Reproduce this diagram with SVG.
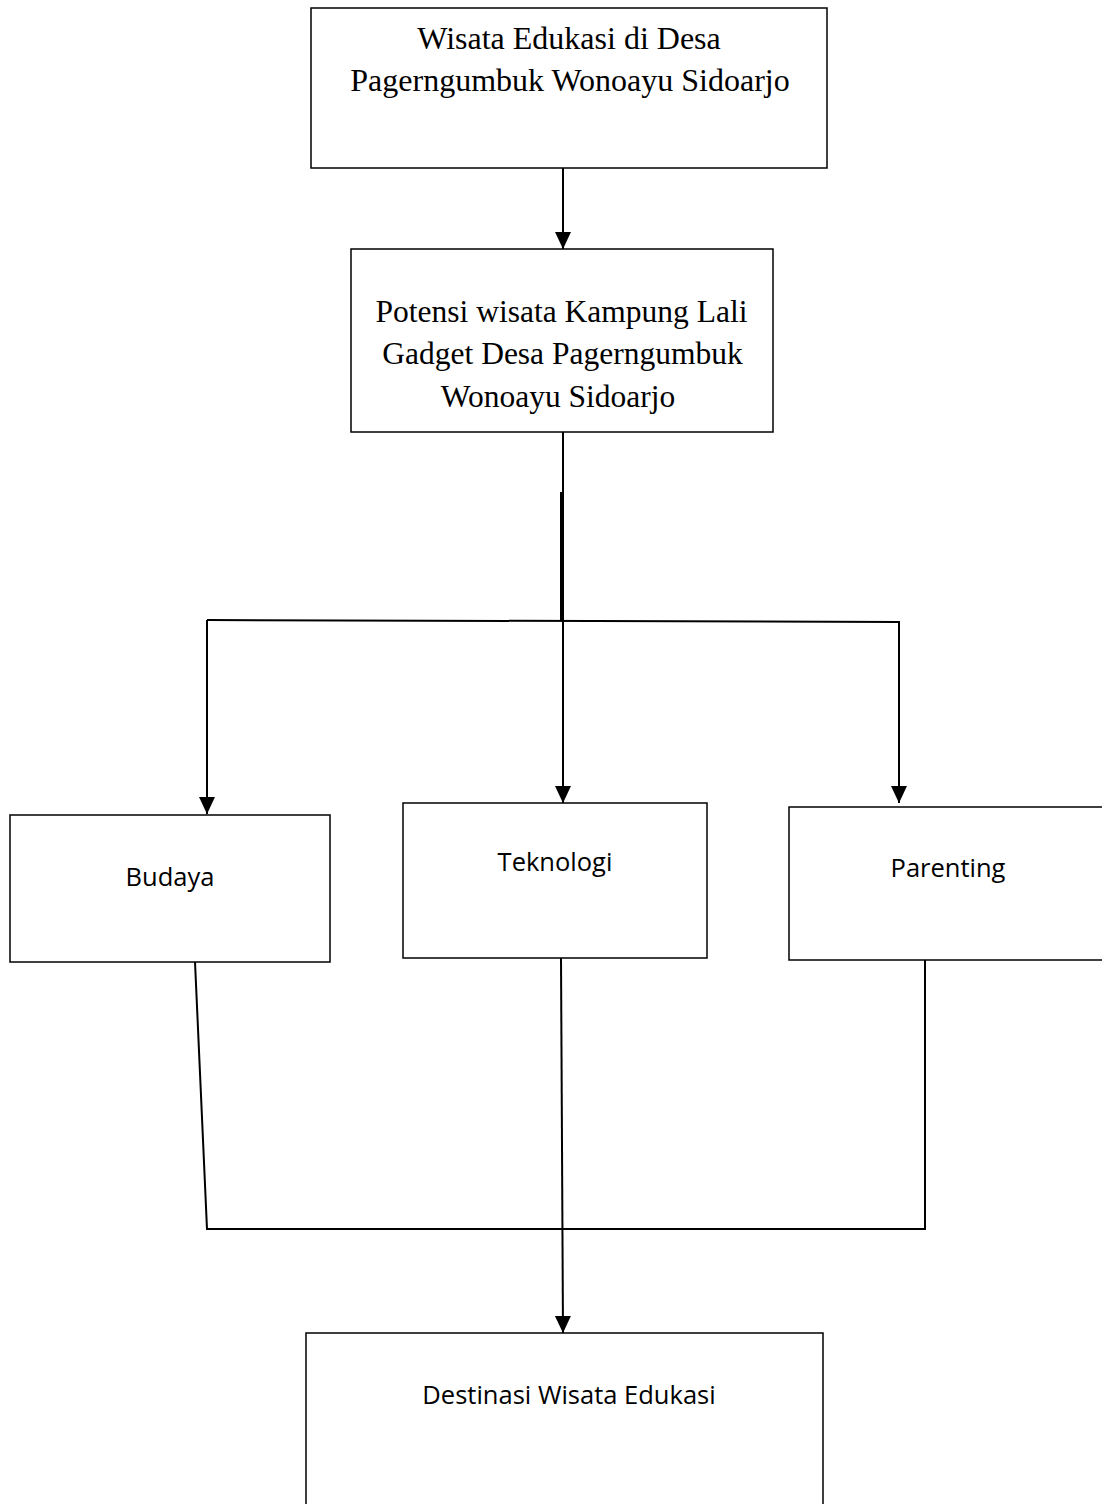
<svg xmlns="http://www.w3.org/2000/svg" width="1102" height="1504" viewBox="0 0 1102 1504">
<style>
.box{fill:#fff;stroke:#000;stroke-width:1.5}
.serif{font-family:"Liberation Serif","Times New Roman",serif;font-size:32px;fill:#000;text-anchor:middle}
.serif2{font-family:"Liberation Serif","Times New Roman",serif;font-size:31.5px;fill:#000;text-anchor:middle}
.sans{font-family:"Open Sans","Noto Sans",sans-serif;font-size:25.5px;fill:#000;text-anchor:middle}
.con{fill:none;stroke:#000;stroke-width:2}
</style>
<defs>
<marker id="arr" markerUnits="userSpaceOnUse" markerWidth="18" markerHeight="18" viewBox="0 0 18 18" refX="17" refY="9" orient="auto">
<path d="M0,1 L17,9 L0,17 Z" fill="#000"/>
</marker>
</defs>
<rect width="1102" height="1504" fill="#fff"/>
<g id="connectors">
<line class="con" x1="563" y1="168" x2="563" y2="249" marker-end="url(#arr)"/>
<line class="con" x1="563" y1="432" x2="563" y2="621"/>
<line class="con" x1="561" y1="492" x2="561" y2="621"/>
<polyline class="con" points="207,620 899,622 899,803" marker-end="url(#arr)"/>
<line class="con" x1="207" y1="620" x2="207" y2="814" marker-end="url(#arr)"/>
<line class="con" x1="563" y1="621" x2="563" y2="803" marker-end="url(#arr)"/>
<polyline class="con" points="195,962 207,1229 925,1229 925,960"/>
<line class="con" x1="561" y1="958" x2="563" y2="1333" marker-end="url(#arr)"/>
</g>
<g id="node-wisata">
<rect class="box" x="311" y="8" width="516" height="160"/>
<text class="serif" x="569" y="49">Wisata Edukasi di Desa</text>
<text class="serif" x="570" y="91">Pagerngumbuk Wonoayu Sidoarjo</text>
</g>
<g id="node-potensi">
<rect class="box" x="351" y="249" width="422" height="183"/>
<text class="serif2" x="561.5" y="322">Potensi wisata Kampung Lali</text>
<text class="serif2" x="562.5" y="364">Gadget Desa Pagerngumbuk</text>
<text class="serif2" x="558" y="407">Wonoayu Sidoarjo</text>
</g>
<g id="node-budaya">
<rect class="box" x="10" y="815" width="320" height="147"/>
<text class="sans" x="170" y="886">Budaya</text>
</g>
<g id="node-teknologi">
<rect class="box" x="403" y="803" width="304" height="155"/>
<text class="sans" x="555" y="871">Teknologi</text>
</g>
<g id="node-parenting">
<rect class="box" x="789" y="807" width="320" height="153"/>
<text class="sans" x="948" y="877">Parenting</text>
</g>
<g id="node-destinasi">
<rect class="box" x="306" y="1333" width="517" height="180"/>
<text class="sans" x="569" y="1404">Destinasi Wisata Edukasi</text>
</g>
</svg>
